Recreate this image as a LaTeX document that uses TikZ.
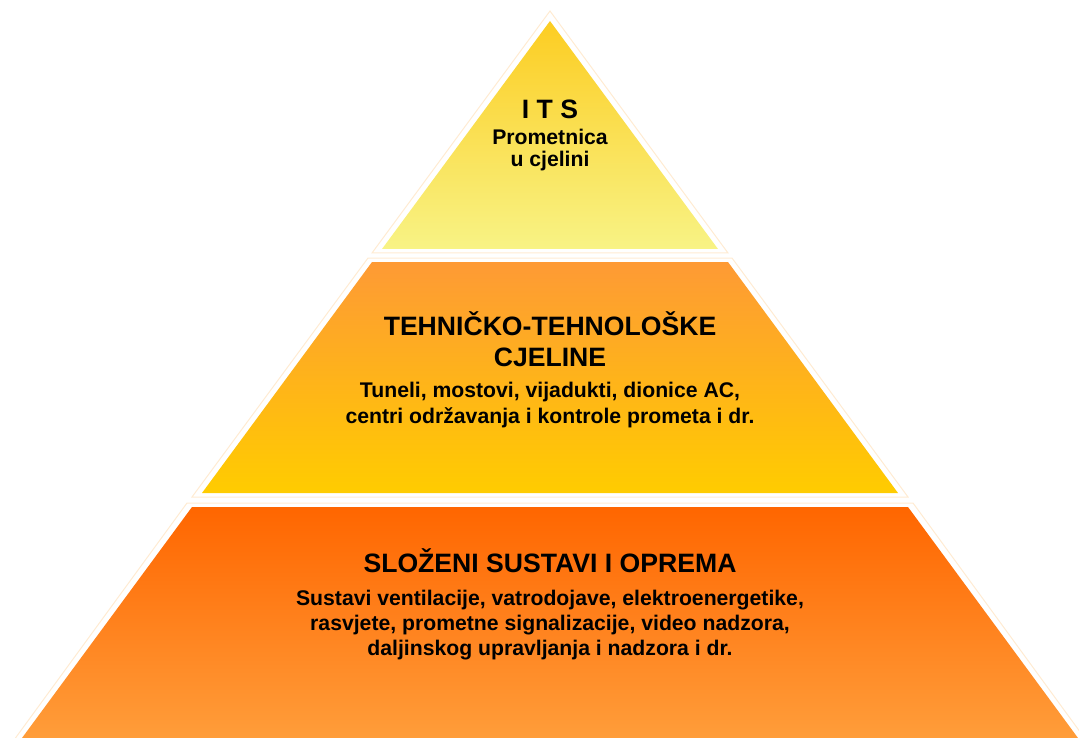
\documentclass[tikz,border=0pt]{standalone}
\usepackage{fontspec}
\setmainfont{Liberation Sans}
\definecolor{tA}{HTML}{FCCD22}
\definecolor{tB}{HTML}{F8F385}
\definecolor{mA}{HTML}{FE9A35}
\definecolor{mB}{HTML}{FFCC00}
\definecolor{bA}{HTML}{FF6600}
\definecolor{bB}{HTML}{FF9D3A}
\definecolor{halo}{HTML}{FFEBD2}
\tikzset{
  halostroke/.style={draw=halo, line width=1pt},
  heading/.style={font=\bfseries\fontsize{26.6}{30}\selectfont, inner sep=0pt, anchor=base},
  bodytext/.style={font=\bfseries\fontsize{21.2}{24}\selectfont, inner sep=0pt, anchor=base},
}
\begin{document}
\begin{tikzpicture}[x=1pt, y=-1pt]
\useasboundingbox (0,0) rectangle (1079,738);
% halos
\draw[halostroke] (550,11) -- (728,253) -- (372,253) -- cycle;
\draw[halostroke] (368,258) -- (732,258) -- (908,497) -- (192,497) -- cycle;
\draw[halostroke] (187,503) -- (913,503) -- (1086,740) -- (14,740) -- cycle;
% tiers
\shade[top color=tA, bottom color=tB] (550,21) -- (718,249) -- (382,249) -- cycle;
\shade[top color=mA, bottom color=mB] (372,262) -- (728,262) -- (898,493) -- (202,493) -- cycle;
\shade[top color=bA, bottom color=bB] (192,507) -- (908,507) -- (1078,738) -- (22,738) -- cycle;
% top text
\node[heading] (its) at (550,119) {I T S};
\node[bodytext] (its1) at (550,145) {Prometnica};
\node[bodytext] (its2) at (550,167) {u cjelini};
% middle text
\node[heading] (mid1) at (550,335) {TEHNIČKO-TEHNOLOŠKE};
\node[heading] (mid2) at (550,366) {CJELINE};
\node[bodytext] (mid3) at (550,397) {Tuneli, mostovi, vijadukti, dionice AC,};
\node[bodytext] (mid4) at (550,423) {centri održavanja i kontrole prometa i dr.};
% bottom text
\node[heading] (bot1) at (550,572) {SLOŽENI SUSTAVI I OPREMA};
\node[bodytext] (bot2) at (550,605) {Sustavi ventilacije, vatrodojave, elektroenergetike,};
\node[bodytext] (bot3) at (550,630) {rasvjete, prometne signalizacije, video nadzora,};
\node[bodytext] (bot4) at (550,655) {daljinskog upravljanja i nadzora i dr.};
\end{tikzpicture}
\end{document}
